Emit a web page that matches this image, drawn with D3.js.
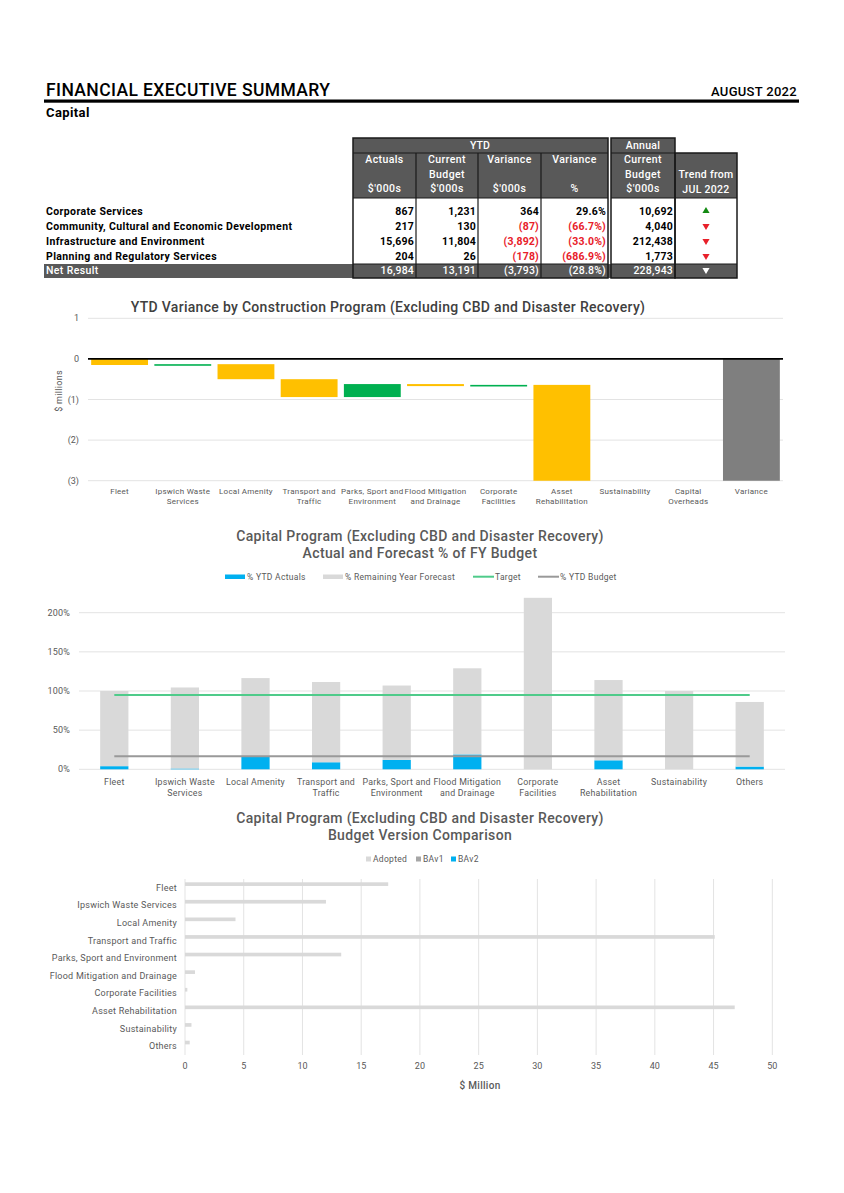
<!DOCTYPE html>
<html>
<head>
<meta charset="utf-8">
<script src="https://cdn.jsdelivr.net/npm/d3@7"></script>
<style>
body { margin: 0; background: #fff; }
text { font-family: Roboto, "Noto Sans", sans-serif; }
</style>
</head>
<body>
<svg id="page" width="844" height="1193"></svg>
<script>

// ---- summary table ----
var tableRows = ["Corporate Services", "Community, Cultural and Economic Development",
    "Infrastructure and Environment", "Planning and Regulatory Services", "Net Result"];
var ytdActuals = [867, 217, 15696, 204, 16984];
var ytdBudget = [1231, 130, 11804, 26, 13191];
var ytdVariance = [364, -87, -3892, -178, -3793];
var ytdVariancePct = [29.6, -66.7, -33.0, -686.9, -28.8];
var annualBudget = [10692, 4040, 212438, 1773, 228943];
var trendFromJul = ["up", "down", "down", "down", "down"];

// ---- waterfall ----
var wfCategories = ["Fleet", "Ipswich Waste|Services", "Local Amenity", "Transport and|Traffic",
    "Parks, Sport and|Environment", "Flood Mitigation|and Drainage", "Corporate|Facilities",
    "Asset|Rehabilitation", "Sustainability", "Capital|Overheads", "Variance"];
var wfChanges = [-0.15, 0.02, -0.37, -0.44, 0.32, -0.05, 0.03, -3.14, -0.02, 0.01];
var wfTotal = -3.793;
var wfTicks = [1, 0, -1, -2, -3];

// ---- % of FY budget ----
var progCategories = ["Fleet", "Ipswich Waste|Services", "Local Amenity", "Transport and|Traffic",
    "Parks, Sport and|Environment", "Flood Mitigation|and Drainage", "Corporate|Facilities",
    "Asset|Rehabilitation", "Sustainability", "Others"];
var ytdActualPct = [4, 1, 17, 9, 12, 19, 0, 11.5, 0, 3.5];
var remainingPct = [96, 103.5, 99.5, 102.5, 95, 110, 219, 102.5, 100, 82.5];
var targetPct = [95, 95, 95, 95, 95, 95, 95, 95, 95, 95];
var ytdBudgetPct = [16.7, 16.7, 16.7, 16.7, 16.7, 16.7, 16.7, 16.7, 16.7, 16.7];
var pctTicks = [0, 50, 100, 150, 200];

// ---- budget versions ----
var bvCategories = ["Fleet", "Ipswich Waste Services", "Local Amenity", "Transport and Traffic",
    "Parks, Sport and Environment", "Flood Mitigation and Drainage", "Corporate Facilities",
    "Asset Rehabilitation", "Sustainability", "Others"];
var adopted = [17.3, 12.0, 4.3, 45.1, 13.3, 0.85, 0.2, 46.8, 0.55, 0.4];
var bav1 = [0, 0, 0, 0, 0, 0, 0, 0, 0, 0];
var bav2 = [0, 0, 0, 0, 0, 0, 0, 0, 0, 0];
var bvTicks = [0, 5, 10, 15, 20, 25, 30, 35, 40, 45, 50];

var svg = d3.select("#page");
var grey = "#595959";

// header
svg.append("text").attr("x", 46).attr("y", 96).text("FINANCIAL EXECUTIVE SUMMARY")
    .style("font-size", "17.5px").style("font-weight", "500").attr("textLength", 284);
svg.append("text").attr("x", 797).attr("y", 96).attr("text-anchor", "end").text("AUGUST 2022")
    .style("font-size", "13px").style("font-weight", "500").style("letter-spacing", "0.3px");
svg.append("rect").attr("x", 44).attr("y", 99.5).attr("width", 755).attr("height", 3.2).style("fill", "black");
svg.append("text").attr("x", 46).attr("y", 117).text("Capital")
    .style("font-size", "13px").style("font-weight", "bold").style("letter-spacing", "0.4px");

// ---------- table ----------
var cols = [
    {x0: 353, x1: 416, head: ["Actuals", "", "$'000s"], vals: ytdActuals, fmt: "num"},
    {x0: 416, x1: 478, head: ["Current", "Budget", "$'000s"], vals: ytdBudget, fmt: "num"},
    {x0: 478, x1: 541, head: ["Variance", "", "$'000s"], vals: ytdVariance, fmt: "num"},
    {x0: 541, x1: 608, head: ["Variance", "", "%"], vals: ytdVariancePct, fmt: "pct"},
    {x0: 611, x1: 675, head: ["Current", "Budget", "$'000s"], vals: annualBudget, fmt: "num"}
];
var rowBase = [215, 230, 245, 260, 274];
var comma = d3.format(",");

function fmtVal(v, kind) {
    var s = kind == "pct" ? Math.abs(v).toFixed(1) + "%" : comma(Math.abs(v));
    return v < 0 ? "(" + s + ")" : s;
}

var tbl = svg.append("g");
// top group headers
tbl.append("rect").attr("x", 353).attr("y", 138).attr("width", 255).attr("height", 15).style("fill", grey);
tbl.append("rect").attr("x", 611).attr("y", 138).attr("width", 64).attr("height", 15).style("fill", grey);
tbl.append("text").attr("x", 480).attr("y", 149).attr("text-anchor", "middle").text("YTD")
    .style("fill", "white").style("font-size", "10.5px").style("font-weight", "500");
tbl.append("text").attr("x", 643).attr("y", 149).attr("text-anchor", "middle").text("Annual")
    .style("fill", "white").style("font-size", "10.5px").style("font-weight", "500").style("letter-spacing", "0.3px");
// column headers
tbl.append("rect").attr("x", 353).attr("y", 153).attr("width", 255).attr("height", 45).style("fill", grey);
tbl.append("rect").attr("x", 611).attr("y", 153).attr("width", 126).attr("height", 45).style("fill", grey);
// net row band
tbl.append("rect").attr("x", 44).attr("y", 264).attr("width", 693).attr("height", 14).style("fill", grey);

cols.forEach(function(c) {
    c.head.forEach(function(h, i) {
        tbl.append("text").attr("x", (c.x0 + c.x1) / 2).attr("y", 163 + i * 14.5)
            .attr("text-anchor", "middle").text(h)
            .style("fill", "white").style("font-size", "10.5px").style("font-weight", "500")
            .style("letter-spacing", "0.4px");
    });
    c.vals.forEach(function(v, i) {
        var net = i == tableRows.length - 1;
        tbl.append("text").attr("x", c.x1 - 2).attr("y", rowBase[i]).attr("text-anchor", "end")
            .text(fmtVal(v, c.fmt))
            .style("fill", net ? "white" : (v < 0 ? "#E8202A" : "black"))
            .style("font-size", "10.5px").style("font-weight", net ? "500" : "bold")
            .style("letter-spacing", "0.2px");
    });
});
["Trend from", "JUL 2022"].forEach(function(h, i) {
    tbl.append("text").attr("x", 706).attr("y", 178 + i * 14.5).attr("text-anchor", "middle").text(h)
        .style("fill", "white").style("font-size", "10.5px").style("font-weight", "500")
        .style("letter-spacing", "0.3px");
});

tableRows.forEach(function(r, i) {
    var net = i == tableRows.length - 1;
    tbl.append("text").attr("x", 46).attr("y", rowBase[i]).text(r)
        .style("fill", net ? "white" : "black")
        .style("font-size", "10.5px").style("font-weight", net ? "500" : "bold")
        .style("letter-spacing", "0.38px");
});

var tri = d3.symbol().type(d3.symbolTriangle).size(22);
trendFromJul.forEach(function(t, i) {
    var net = i == tableRows.length - 1;
    tbl.append("path").attr("d", tri)
        .attr("transform", "translate(706," + (rowBase[i] - 4) + ") rotate(" + (t == "up" ? 0 : 180) + ")")
        .style("fill", net ? "white" : (t == "up" ? "#138A12" : "#E8202A"));
});

// borders
var bline = function(x1, y1, x2, y2, w) {
    tbl.append("line").attr("x1", x1).attr("y1", y1).attr("x2", x2).attr("y2", y2)
        .style("stroke", "#1a1a1a").style("stroke-width", w);
};
tbl.append("rect").attr("x", 353).attr("y", 138).attr("width", 255).attr("height", 140)
    .style("fill", "none").style("stroke", "#1a1a1a").style("stroke-width", 1.5);
tbl.append("rect").attr("x", 611).attr("y", 138).attr("width", 64).attr("height", 140)
    .style("fill", "none").style("stroke", "#1a1a1a").style("stroke-width", 1.5);
tbl.append("rect").attr("x", 675).attr("y", 153).attr("width", 62).attr("height", 125)
    .style("fill", "none").style("stroke", "#1a1a1a").style("stroke-width", 1.5);
[416, 478, 541].forEach(function(x) { bline(x, 153, x, 278, 1.2); });
bline(353, 153, 608, 153, 1.2);
bline(611, 153, 675, 153, 1.2);
bline(353, 198, 608, 198, 1.2);
bline(611, 198, 737, 198, 1.2);
bline(353, 264, 608, 264, 1.2);
bline(611, 264, 737, 264, 1.2);

// ---------- waterfall ----------
var wfg = svg.append("g");
var x1 = d3.scaleBand().domain(wfCategories).range([88, 783]).paddingInner(0.1).paddingOuter(0.05);
var y1 = d3.scaleLinear().domain([-3, 1]).range([480.7, 318.3]);

wfg.append("text").attr("x", 388).attr("y", 312).attr("text-anchor", "middle")
    .text("YTD Variance by Construction Program (Excluding CBD and Disaster Recovery)")
    .style("fill", "#404040").style("font-size", "14px").style("font-weight", "500")
    .style("letter-spacing", "0.3px");

wfTicks.forEach(function(t) {
    wfg.append("line").attr("x1", 88).attr("x2", 783).attr("y1", y1(t)).attr("y2", y1(t))
        .style("stroke", "#E3E3E3").style("stroke-width", 1);
    wfg.append("text").attr("x", 79).attr("y", y1(t) + 3).attr("text-anchor", "end")
        .text(t < 0 ? "(" + (-t) + ")" : t)
        .style("fill", grey).style("font-size", "9px");
});
wfg.append("text").attr("transform", "translate(62,391) rotate(-90)").attr("text-anchor", "middle")
    .text("$ millions").style("fill", grey).style("font-size", "9px").style("letter-spacing", "0.3px");

wfg.append("clipPath").attr("id", "wfclip").append("rect")
    .attr("x", 88).attr("y", 318).attr("width", 695).attr("height", 162.7);

var running = 0;
var steps = wfChanges.map(function(d, i) {
    var start = running;
    running += d;
    return {cat: wfCategories[i], from: start, to: running, value: d};
});
steps.push({cat: wfCategories[10], from: 0, to: wfTotal, value: wfTotal, total: true});

wfg.append("g").attr("clip-path", "url(#wfclip)").selectAll("rect").data(steps).enter().append("rect")
    .attr("x", function(d) { return x1(d.cat); })
    .attr("width", x1.bandwidth())
    .attr("y", function(d) { return y1(Math.max(d.from, d.to)); })
    .attr("height", function(d) { return Math.max(1.6, Math.abs(y1(d.from) - y1(d.to))); })
    .style("fill", function(d) { return d.total ? "#7F7F7F" : (d.value < 0 ? "#FFC000" : "#00B050"); });

wfg.append("line").attr("x1", 88).attr("x2", 783).attr("y1", y1(0)).attr("y2", y1(0))
    .style("stroke", "black").style("stroke-width", 1.6);

wfCategories.forEach(function(c) {
    c.split("|").forEach(function(s, i) {
        wfg.append("text").attr("x", x1(c) + x1.bandwidth() / 2).attr("y", 494 + i * 10)
            .attr("text-anchor", "middle").text(s)
            .style("fill", grey).style("font-size", "8px").style("letter-spacing", "0.25px");
    });
});

// ---------- % of FY budget ----------
var pg = svg.append("g");
var x2 = d3.scaleBand().domain(progCategories).range([79, 785]).paddingInner(0.6).paddingOuter(0.3);
var y2 = d3.scaleLinear().domain([0, 200]).range([769.3, 612.7]);

["Capital Program (Excluding CBD and Disaster Recovery)", "Actual and Forecast % of FY Budget"].forEach(function(t, i) {
    pg.append("text").attr("x", 420).attr("y", 541 + i * 17).attr("text-anchor", "middle").text(t)
        .style("fill", grey).style("font-size", "14px").style("font-weight", "500")
        .style("letter-spacing", "0.35px");
});

var leg2 = [
    {x: 225, label: "% YTD Actuals", kind: "bar", color: "#00B0F0"},
    {x: 323, label: "% Remaining Year Forecast", kind: "bar", color: "#D9D9D9"},
    {x: 473, label: "Target", kind: "line", color: "#4FCB8A"},
    {x: 538, label: "% YTD Budget", kind: "line", color: "#999999"}
];
leg2.forEach(function(l) {
    if (l.kind == "bar") {
        pg.append("rect").attr("x", l.x).attr("y", 574.5).attr("width", 20).attr("height", 4.5).style("fill", l.color);
    } else {
        pg.append("line").attr("x1", l.x).attr("x2", l.x + 21).attr("y1", 576.7).attr("y2", 576.7)
            .style("stroke", l.color).style("stroke-width", 2);
    }
    pg.append("text").attr("x", l.x + 22).attr("y", 580).text(l.label)
        .style("fill", grey).style("font-size", "8.5px").style("letter-spacing", "0.3px");
});

pctTicks.forEach(function(t) {
    pg.append("line").attr("x1", 79).attr("x2", 785).attr("y1", y2(t)).attr("y2", y2(t))
        .style("stroke", "#E3E3E3").style("stroke-width", 1);
    pg.append("text").attr("x", 70).attr("y", y2(t) + 3).attr("text-anchor", "end").text(t + "%")
        .style("fill", grey).style("font-size", "9px").style("letter-spacing", "0.2px");
});

var stacked = d3.stack().keys(["act", "rem"])(progCategories.map(function(c, i) {
    return {cat: c, act: ytdActualPct[i], rem: remainingPct[i]};
}));
var stackColors = {act: "#00B0F0", rem: "#D9D9D9"};
stacked.forEach(function(layer) {
    pg.append("g").selectAll("rect").data(layer).enter().append("rect")
        .attr("x", function(d) { return x2(d.data.cat); })
        .attr("width", x2.bandwidth())
        .attr("y", function(d) { return y2(d[1]); })
        .attr("height", function(d) { return y2(d[0]) - y2(d[1]); })
        .style("fill", stackColors[layer.key]);
});

var line2 = d3.line()
    .x(function(d, i) { return x2(progCategories[i]) + x2.bandwidth() / 2; })
    .y(function(d) { return y2(d); });
pg.append("path").attr("d", line2(ytdBudgetPct)).style("fill", "none")
    .style("stroke", "#999999").style("stroke-width", 2);
pg.append("path").attr("d", line2(targetPct)).style("fill", "none")
    .style("stroke", "#4FCB8A").style("stroke-width", 2);

progCategories.forEach(function(c) {
    c.split("|").forEach(function(s, i) {
        pg.append("text").attr("x", x2(c) + x2.bandwidth() / 2).attr("y", 785 + i * 10.5)
            .attr("text-anchor", "middle").text(s)
            .style("fill", grey).style("font-size", "8.8px").style("letter-spacing", "0.25px");
    });
});

// ---------- budget version comparison ----------
var bg = svg.append("g");
var x3 = d3.scaleLinear().domain([0, 50]).range([185, 772.3]);
var y3 = d3.scaleBand().domain(bvCategories).range([879, 1055]).paddingInner(0.375).paddingOuter(0.1875);
var seriesKeys = ["Adopted", "BAv1", "BAv2"];
var seriesVals = {Adopted: adopted, BAv1: bav1, BAv2: bav2};
var seriesColors = {Adopted: "#D9D9D9", BAv1: "#A6A6A6", BAv2: "#00B0F0"};
var y3in = d3.scaleBand().domain(seriesKeys).range([0, y3.bandwidth()]);

["Capital Program (Excluding CBD and Disaster Recovery)", "Budget Version Comparison"].forEach(function(t, i) {
    bg.append("text").attr("x", 420).attr("y", 823 + i * 17).attr("text-anchor", "middle").text(t)
        .style("fill", grey).style("font-size", "14px").style("font-weight", "500")
        .style("letter-spacing", "0.35px");
});

var leg3x = [366, 416, 451];
seriesKeys.forEach(function(k, i) {
    bg.append("rect").attr("x", leg3x[i]).attr("y", 856.5).attr("width", 5).attr("height", 5).style("fill", seriesColors[k]);
    bg.append("text").attr("x", leg3x[i] + 7).attr("y", 862).text(k)
        .style("fill", grey).style("font-size", "8.5px").style("letter-spacing", "0.3px");
});

bvTicks.forEach(function(t) {
    bg.append("line").attr("x1", x3(t)).attr("x2", x3(t)).attr("y1", 879).attr("y2", 1055)
        .style("stroke", "#E3E3E3").style("stroke-width", 1);
    bg.append("text").attr("x", x3(t)).attr("y", 1069).attr("text-anchor", "middle").text(t)
        .style("fill", grey).style("font-size", "9px");
});
bg.append("text").attr("x", 480).attr("y", 1089).attr("text-anchor", "middle").text("$ Million")
    .style("fill", grey).style("font-size", "10px").style("font-weight", "500").style("letter-spacing", "0.3px");

seriesKeys.forEach(function(k) {
    bg.append("g").selectAll("rect").data(seriesVals[k]).enter().append("rect")
        .attr("x", x3(0))
        .attr("y", function(d, i) { return y3(bvCategories[i]) + y3in(k); })
        .attr("width", function(d) { return x3(d) - x3(0); })
        .attr("height", y3in.bandwidth())
        .style("fill", seriesColors[k]);
});

bvCategories.forEach(function(c) {
    bg.append("text").attr("x", 177).attr("y", y3(c) + y3.bandwidth() / 2 + 3).attr("text-anchor", "end").text(c)
        .style("fill", grey).style("font-size", "9px").style("letter-spacing", "0.25px");
});

</script>
</body>
</html>
